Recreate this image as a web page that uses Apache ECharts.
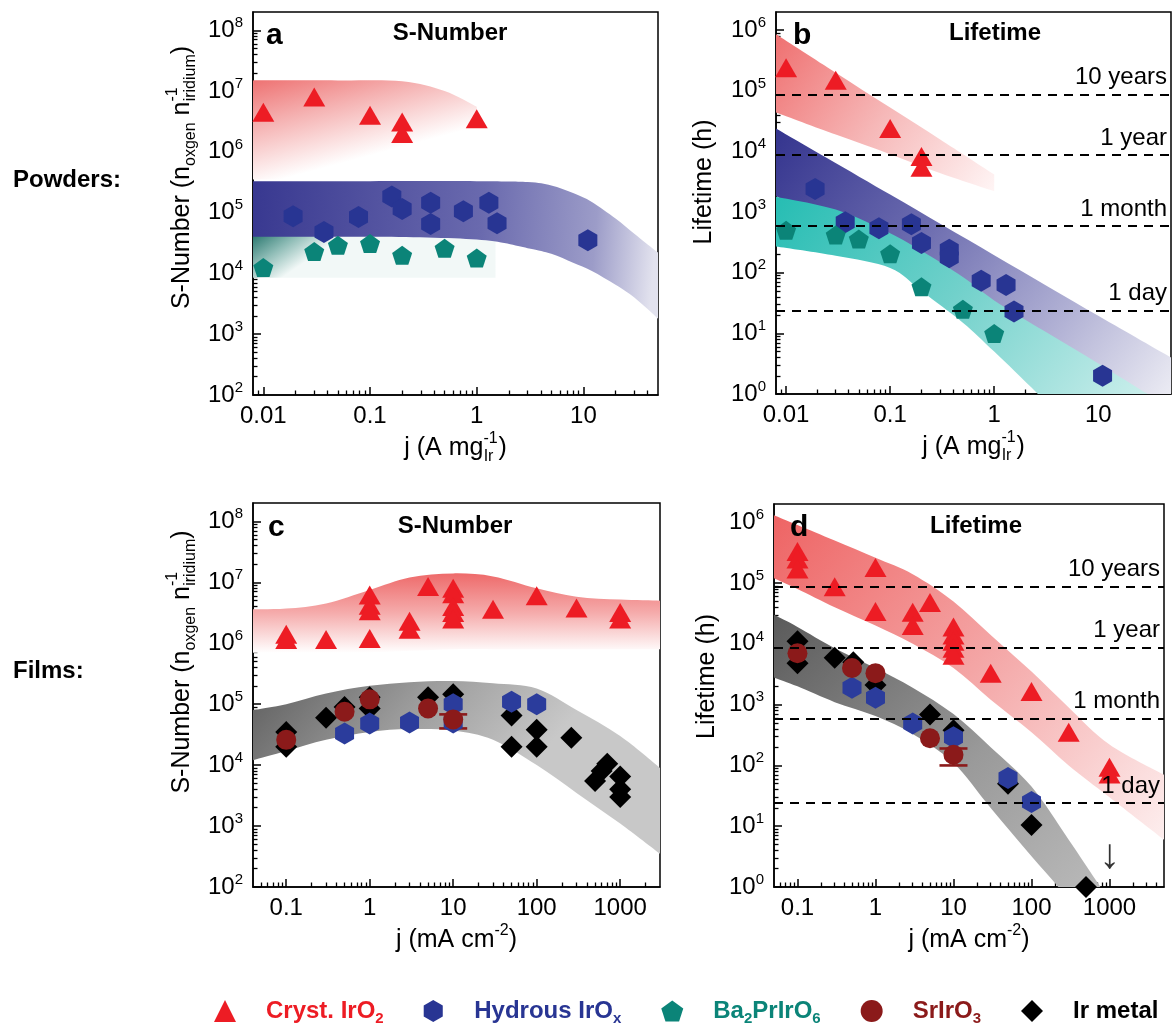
<!DOCTYPE html>
<html><head><meta charset="utf-8">
<script src="https://cdn.jsdelivr.net/npm/echarts@6/dist/echarts.min.js"></script>
<style>html,body{margin:0;padding:0;background:#fff}#c{width:1175px;height:1028px}</style>
</head><body><div id="c"></div>
<script>
const FONT = "'Liberation Sans', Arial, Helvetica, sans-serif";

// ---------- Panel a : powders, S-number ----------
const aIrO2X = [0.01, 0.03, 0.1, 0.2, 0.2, 1.0];
const aIrO2Y = [4.5e6, 8e6, 4e6, 3.1e6, 2.0e6, 3.5e6];
const aHydX = [0.019, 0.037, 0.078, 0.16, 0.2, 0.37, 0.37, 0.75, 1.3, 1.55, 11];
const aHydY = [8.7e4, 4.8e4, 8.5e4, 1.85e5, 1.15e5, 1.45e5, 6.5e4, 1.05e5, 1.45e5, 6.7e4, 3.5e4];
const aBaX = [0.01, 0.03, 0.05, 0.1, 0.2, 0.5, 1.0];
const aBaY = [1.25e4, 2.3e4, 2.9e4, 3.1e4, 2.0e4, 2.6e4, 1.8e4];
const aRedBandX = [0.008, 0.05, 0.2, 0.5, 1.0];
const aRedBandTop = [1.5e7, 1.5e7, 1.45e7, 1.0e7, 5.5e6];
const aRedBandBot = [3.5e5, 3.5e5, 4e5, 5.5e5, 1e6];
const aBlueBandX = [0.008, 0.1, 1, 3, 5, 8, 12, 20, 30, 50];
const aBlueBandTop = [3.3e5, 3.3e5, 3.3e5, 3.2e5, 2.8e5, 2.1e5, 1.5e5, 8e4, 4.5e4, 2.2e4];
const aBlueBandBot = [4e4, 4e4, 3.6e4, 2.6e4, 2.1e4, 1.5e4, 1.1e4, 6.5e3, 4e3, 1.8e3];
const aGreenBandX = [0.008, 0.1, 0.5, 1.5];
const aGreenBandTop = [4.2e4, 4.2e4, 4e4, 3.5e4];
const aGreenBandBot = [8.5e3, 8.5e3, 8.5e3, 8.5e3];

// ---------- Panel b : powders, lifetime ----------
const bIrO2X = [0.01, 0.03, 0.1, 0.2, 0.2];
const bIrO2Y = [2.4e5, 1.5e5, 2.4e4, 8.3e3, 5.5e3];
const bHydX = [0.019, 0.037, 0.078, 0.16, 0.2, 0.37, 0.37, 0.75, 1.3, 1.55, 11];
const bHydY = [2.4e3, 680, 540, 630, 310, 240, 180, 74, 63, 23, 2.0];
const bBaX = [0.01, 0.03, 0.05, 0.1, 0.2, 0.5, 1.0];
const bBaY = [500, 420, 360, 205, 59, 25, 10];
const bRedBandX = [0.008, 0.03, 0.1, 0.3, 1.0];
const bRedBandTop = [8.6e5, 2e5, 5.3e4, 1.6e4, 4.2e3];
const bRedBandBot = [4.4e4, 1.9e4, 9e3, 4.4e3, 2.2e3];
const bBlueBandX = [0.008, 0.1, 1, 10, 50];
const bBlueBandTop = [2.4e4, 1.95e3, 195, 19.5, 4];
const bBlueBandBot = [1.85e3, 150, 15, 1.5, 0.3];
const bGreenBandX = [0.008, 0.03, 0.1, 0.2, 0.5, 1, 3, 10, 30, 50];
const bGreenBandTop = [1.8e3, 1.1e3, 450, 230, 85, 35, 11, 3.2, 1.0, 0.6];
const bGreenBandBot = [270, 190, 120, 50, 15, 5, 0.8, 0.1, 0.02, 0.01];

// ---------- Panel c : films, S-number ----------
const cIrO2X = [0.1, 0.1, 0.3, 1, 1, 1, 1, 3, 3, 5, 10, 10, 10, 10, 10, 30, 100, 300, 1000, 1000];
const cIrO2Y = [1.4e6, 1.15e6, 1.15e6, 6.2e6, 4.2e6, 3.4e6, 1.2e6, 2.3e6, 1.7e6, 8.5e6, 8e6, 6.5e6, 4e6, 3.2e6, 2.5e6, 3.6e6, 6e6, 3.8e6, 3.2e6, 2.5e6];
const cIrX = [0.1, 0.1, 0.3, 0.5, 1, 1, 5, 10, 50, 50, 100, 100, 260, 500, 600, 700, 1000, 1000, 1000];
const cIrY = [3.5e4, 2e4, 6e4, 9e4, 1.3e5, 8.5e4, 1.3e5, 1.45e5, 6.5e4, 2e4, 3.8e4, 2e4, 2.8e4, 5.5e3, 8e3, 1.05e4, 6.5e3, 4e3, 3e3];
const cHydX = [0.5, 1, 3, 10, 10, 50, 100];
const cHydY = [3.3e4, 4.8e4, 5e4, 1e5, 5e4, 1.1e5, 1e5];
const cSrX = [0.1, 0.5, 1, 5, 10];
const cSrY = [2.6e4, 7.5e4, 1.2e5, 8.5e4, 5.6e4];
const cSrErr = [[10, 4e4, 6.8e4]];
const cRedBandX = [0.04, 0.1, 0.3, 1, 3, 10, 30, 100, 300, 1000, 3000];
const cRedBandTop = [3.6e6, 3.7e6, 4.5e6, 7.5e6, 1.2e7, 1.4e7, 1.25e7, 8e6, 5.8e6, 5.2e6, 5e6];
const cRedBandBot = [7e5, 7e5, 7e5, 7e5, 7.5e5, 8e5, 8e5, 8e5, 8e5, 8e5, 8e5];
const cGreyBandX = [0.04, 0.1, 0.3, 1, 3, 10, 30, 100, 300, 1000, 3000];
const cGreyBandTop = [8e4, 1e5, 1.5e5, 2e5, 2.3e5, 2.4e5, 2.2e5, 1.8e5, 8e4, 3e4, 9e3];
const cGreyBandBot = [1.2e4, 1.7e4, 2.6e4, 3.5e4, 3.9e4, 3.7e4, 2.6e4, 1e4, 3.5e3, 1.1e3, 350];

// ---------- Panel d : films, lifetime ----------
const dIrO2X = [0.1, 0.1, 0.1, 0.3, 1, 1, 3, 3, 5, 10, 10, 10, 10, 10, 30, 100, 300, 1000, 1000];
const dIrO2Y = [3.3e5, 2.5e5, 1.7e5, 8.7e4, 1.8e5, 3.4e4, 3.3e4, 2e4, 4.8e4, 1.9e4, 1.4e4, 1.1e4, 8.5e3, 6.5e3, 3.3e3, 1.65e3, 350, 93, 72];
const dIrX = [0.1, 0.1, 0.3, 0.52, 1, 5, 10, 50, 100, 500];
const dIrY = [1.1e4, 4.8e3, 5.9e3, 5e3, 2.1e3, 690, 380, 50, 10.5, 1];
const dHydX = [0.5, 1, 3, 10, 50, 100];
const dHydY = [1.9e3, 1.3e3, 490, 290, 62, 25];
const dSrX = [0.1, 0.5, 1, 5, 10];
const dSrY = [7e3, 4e3, 3.3e3, 280, 150];
const dSrErr = [[10, 100, 190]];
const dArrow = [[1000, 3.2]];
const dRedBandX = [0.05, 0.1, 0.3, 1, 3, 10, 30, 100, 300, 1000, 5000];
const dRedBandTop = [1.3e6, 9e5, 5e5, 2.6e5, 1.4e5, 5e4, 1.4e4, 3.5e3, 900, 220, 70];
const dRedBandBot = [1.2e5, 8e4, 4e4, 2e4, 1e4, 4e3, 1.2e3, 350, 100, 30, 6];
const dGreyBandX = [0.05, 0.1, 0.3, 1, 3, 10, 30, 100, 300, 1000];
const dGreyBandTop = [3e4, 1.9e4, 8.5e3, 4e3, 1.9e3, 700, 200, 45, 6, 0.6];
const dGreyBandBot = [2.8e3, 2e3, 1.1e3, 650, 330, 110, 20, 3.2, 0.6, 0.05];

// ---------- ticks, reference lines, legend ----------
const xTicksPowder = [0.01, 0.1, 1, 10];
const xTicksFilm = [0.1, 1, 10, 100, 1000];
const yTicksS = [1e2, 1e3, 1e4, 1e5, 1e6, 1e7, 1e8];
const yTicksL = [1, 10, 100, 1e3, 1e4, 1e5, 1e6];
const lifeLines = [87600, 8760, 590, 24];
const lifeLabels = ['10 years', '1 year', '1 month', '1 day'];
const legendNames = ['Cryst. IrO2', 'Hydrous IrOx', 'Ba2PrIrO6', 'SrIrO3', 'Ir metal'];
const legendColors = ['#ed1c24', '#283593', '#0b8478', '#8b1a1a', '#000000'];
const legendRich = {'Cryst. IrO2': 'Cryst. IrO{s|2}', 'Hydrous IrOx': 'Hydrous IrO{s|x}',
  'Ba2PrIrO6': 'Ba{s|2}PrIrO{s|6}', 'SrIrO3': 'SrIrO{s|3}', 'Ir metal': 'Ir metal'};

const C_RED = '#ed1c24', C_HYD = '#283593', C_HYD2 = '#2b3c9c', C_BA = '#0b8478', C_SR = '#8b1a1a', C_IR = '#000';
const HEX = 'path://M0,-10 L8.66,-5 L8.66,5 L0,10 L-8.66,5 L-8.66,-5 Z';
const PENT = 'path://M0,-10 L9.51,-3.09 L5.88,8.09 L-5.88,8.09 L-9.51,-3.09 Z';

const chart = echarts.init(document.getElementById('c'), null, {renderer: 'canvas'});
const G = echarts.graphic.LinearGradient;

function minors(lo, hi) {
  const out = [];
  for (let e = Math.floor(Math.log10(lo)) - 1; e <= Math.ceil(Math.log10(hi)); e++)
    for (let m = 2; m <= 9; m++) {
      const v = +(m * Math.pow(10, e)).toPrecision(6);
      if (v > lo * 1.0001 && v < hi * 0.9999) out.push(v);
    }
  return out;
}
const NAME_RICH = {
  sb: {fontSize: 16, verticalAlign: 'bottom', lineHeight: 16, color: '#000', fontFamily: FONT},
  sbn: {fontSize: 16, verticalAlign: 'bottom', lineHeight: 16, color: '#000', fontFamily: FONT, padding: [0, 0, 0, -14]},
  sbs: {fontSize: 16, verticalAlign: 'bottom', lineHeight: 16, color: '#000', fontFamily: FONT, padding: [0, 5, 0, -14]},
  sp: {fontSize: 16, verticalAlign: 'top', lineHeight: 16, color: '#000', fontFamily: FONT}
};
const AX_LINE = {show: true, onZero: false, lineStyle: {color: '#000', width: 1.5}};
function xAxes(grid, min, max, ticks, name, gap) {
  return [{
    type: 'log', logBase: 10, gridIndex: grid, min, max, position: 'bottom', offset: 0,
    name, nameLocation: 'middle', nameGap: gap,
    nameTextStyle: {fontSize: 25, color: '#000', fontFamily: FONT, lineHeight: 34, rich: NAME_RICH},
    axisLine: AX_LINE,
    axisTick: {show: true, inside: true, length: 8, customValues: ticks, lineStyle: {color: '#000', width: 1.5}},
    axisLabel: {show: true, customValues: ticks, formatter: v => String(+(+v).toPrecision(6)),
      fontSize: 24, color: '#000', fontFamily: FONT, margin: 9},
    splitLine: {show: false}
  }, {
    type: 'log', logBase: 10, gridIndex: grid, min, max, position: 'bottom', offset: 0,
    axisLine: {show: false},
    axisTick: {show: true, inside: true, length: 4.5, customValues: minors(min, max), lineStyle: {color: '#000', width: 1.3}},
    axisLabel: {show: false}, splitLine: {show: false}
  }];
}
function yAxes(grid, min, max, ticks, name, gap, shift) {
  return [{
    type: 'log', logBase: 10, gridIndex: grid, min, max, position: 'left', offset: 0,
    name, nameLocation: 'middle', nameGap: gap,
    nameTextStyle: {fontSize: 25, color: '#000', fontFamily: FONT, lineHeight: 34, rich: NAME_RICH, padding: [0, 0, 0, shift]},
    axisLine: AX_LINE,
    axisTick: {show: true, inside: true, length: 8, customValues: ticks, lineStyle: {color: '#000', width: 1.5}},
    axisLabel: {show: true, customValues: ticks, margin: 10,
      formatter: v => '{b|10}{s|' + Math.round(Math.log10(v)) + '}',
      rich: {b: {fontSize: 24, lineHeight: 30, color: '#000', fontFamily: FONT},
             s: {fontSize: 15, lineHeight: 15, verticalAlign: 'top', color: '#000', fontFamily: FONT}}},
    splitLine: {show: false}
  }, {
    type: 'log', logBase: 10, gridIndex: grid, min, max, position: 'left', offset: 0,
    axisLine: {show: false},
    axisTick: {show: true, inside: true, length: 4.5, customValues: minors(min, max), lineStyle: {color: '#000', width: 1.3}},
    axisLabel: {show: false}, splitLine: {show: false}
  }];
}

function curve(pts) {
  let s = '';
  for (let i = 0; i < pts.length - 1; i++) {
    const p0 = pts[i - 1] || pts[i], p1 = pts[i], p2 = pts[i + 1], p3 = pts[i + 2] || p2;
    const c1 = [p1[0] + (p2[0] - p0[0]) / 6, p1[1] + (p2[1] - p0[1]) / 6];
    const c2 = [p2[0] - (p3[0] - p1[0]) / 6, p2[1] - (p3[1] - p1[1]) / 6];
    s += ' C' + c1[0] + ',' + c1[1] + ' ' + c2[0] + ',' + c2[1] + ' ' + p2[0] + ',' + p2[1];
  }
  return s;
}
function band(gi, xs, lo, hi, fill) {
  return {
    type: 'custom', xAxisIndex: gi, yAxisIndex: gi, silent: true, z: 1, clip: true,
    data: [[xs[0], hi[0]]],
    renderItem: (params, api) => {
      const top = xs.map((x, i) => api.coord([x, hi[i]]));
      const bot = xs.map((x, i) => api.coord([x, lo[i]])).reverse();
      const d = 'M' + top[0][0] + ',' + top[0][1] + curve(top) + ' L' + bot[0][0] + ',' + bot[0][1] + curve(bot) + ' Z';
      const cs = params.coordSys;
      return {type: 'path', shape: {pathData: d}, style: {fill: fill, stroke: null},
        clipPath: {type: 'rect', shape: {x: cs.x, y: cs.y, width: cs.width, height: cs.height}}};
    }
  };
}
function errBar(gi, data) {
  return {
    type: 'custom', xAxisIndex: gi, yAxisIndex: gi, silent: true, z: 3, data,
    encode: {x: 0, y: [1, 2]},
    renderItem: (params, api) => {
      const lo = api.coord([api.value(0), api.value(1)]);
      const hi = api.coord([api.value(0), api.value(2)]);
      const w = 14, st = {stroke: C_SR, lineWidth: 2.6};
      return {type: 'group', children: [
        {type: 'line', shape: {x1: lo[0], y1: lo[1], x2: hi[0], y2: hi[1]}, style: st},
        {type: 'line', shape: {x1: lo[0] - w, y1: lo[1], x2: lo[0] + w, y2: lo[1]}, style: st},
        {type: 'line', shape: {x1: hi[0] - w, y1: hi[1], x2: hi[0] + w, y2: hi[1]}, style: st}]};
    }
  };
}
function sc(name, gi, xs, ys, symbol, size, color) {
  return {type: 'scatter', name, xAxisIndex: gi, yAxisIndex: gi, silent: true, z: 4,
    data: xs.map((x, i) => [x, ys[i]]), symbol, symbolSize: size,
    itemStyle: {color, opacity: 1}};
}
function lifeMarks(gi) {
  return {type: 'line', xAxisIndex: gi, yAxisIndex: gi, data: [], silent: true, z: 2,
    markLine: {silent: true, symbol: ['none', 'none'], animation: false,
      lineStyle: {type: [9, 7], color: '#000', width: 1.8},
      label: {show: true, position: 'insideEndTop', fontSize: 24, color: '#000', fontFamily: FONT, distance: [4, 5]},
      data: lifeLines.map((v, i) => ({yAxis: v, label: {formatter: lifeLabels[i]}}))}};
}

const TRI = [22, 19], HEXS = [19, 22], PENTS = [20, 19];
const xA = xAxes(0, 0.008, 50, xTicksPowder, 'j (A mg{sp|-1}{sbs|Ir})', 36);
const xB = xAxes(1, 0.008, 50, xTicksPowder, 'j (A mg{sp|-1}{sbs|Ir})', 36);
const xC = xAxes(2, 0.04, 3000, xTicksFilm, 'j (mA cm{sp|-2})', 36);
const xD = xAxes(3, 0.05, 5000, xTicksFilm, 'j (mA cm{sp|-2})', 36);
const yA = yAxes(0, 100, 2e8, yTicksS, 'S-Number (n{sb|oxgen} n{sp|-1}{sbn|iridium})', 54, 52);
const yB = yAxes(1, 1, 2e6, yTicksL, 'Lifetime (h)', 55, 42);
const yC = yAxes(2, 100, 2e8, yTicksS, 'S-Number (n{sb|oxgen} n{sp|-1}{sbn|iridium})', 54, 66);
const yD = yAxes(3, 1, 2e6, yTicksL, 'Lifetime (h)', 50, 38);

const gridStyle = {show: true, borderColor: '#000', borderWidth: 1.5, backgroundColor: 'transparent', containLabel: false};
function txt(t, x, y, size, align) {
  return {type: 'text', x, y, silent: true, z: 100, zlevel: 0,
    style: {text: t, font: 'bold ' + size + 'px ' + FONT, fill: '#000',
      textAlign: align, align: align, textVerticalAlign: 'middle', verticalAlign: 'middle'}};
}

const option = {
  animation: false,
  backgroundColor: '#fff',
  textStyle: {fontFamily: FONT},
  grid: [
    Object.assign({left: 253, top: 12, width: 405, height: 383}, gridStyle),
    Object.assign({left: 776, top: 12, width: 395, height: 382}, gridStyle),
    Object.assign({left: 253, top: 503, width: 407, height: 384}, gridStyle),
    Object.assign({left: 774, top: 504, width: 390, height: 383}, gridStyle)
  ],
  xAxis: [xA[0], xB[0], xC[0], xD[0], xA[1], xB[1], xC[1], xD[1]],
  yAxis: [yA[0], yB[0], yC[0], yD[0], yA[1], yB[1], yC[1], yD[1]],
  legend: {
    show: true, left: 209, top: 991, itemWidth: 22, itemHeight: 22, itemGap: 40, selectedMode: false,
    data: legendNames.map((n, i) => ({name: n, textStyle: {color: legendColors[i]}})),
    formatter: n => legendRich[n],
    textStyle: {fontSize: 24, fontWeight: 'bold', fontFamily: FONT, lineHeight: 30, padding: [0, 0, 0, 25],
      rich: {s: {fontSize: 15, fontWeight: 'bold', fontFamily: FONT, verticalAlign: 'bottom', lineHeight: 14}}}
  },
  graphic: {elements: [
    txt('Powders:', 13, 180, 24, 'left'), txt('Films:', 13, 671, 24, 'left'),
    txt('a', 266, 36, 30, 'left'), txt('S-Number', 450, 33, 24, 'center'),
    txt('b', 793, 36, 30, 'left'), txt('Lifetime', 995, 33, 24, 'center'),
    txt('c', 268, 528, 30, 'left'), txt('S-Number', 455, 526, 24, 'center'),
    txt('d', 790, 528, 30, 'left'), txt('Lifetime', 976, 526, 24, 'center')
  ]},
  series: [
    // panel a
    band(0, aRedBandX, aRedBandBot, aRedBandTop, new G(0, 0, 0.12, 1, [{offset: 0, color: '#ee7272'}, {offset: 0.45, color: '#f5b3b3'}, {offset: 1, color: '#ffffff'}])),
    band(0, aGreenBandX, aGreenBandBot, aGreenBandTop, new G(0, 0, 0.12, 1, [{offset: 0, color: '#2b7870'}, {offset: 0.5, color: '#8ebcb6'}, {offset: 1, color: '#f2f8f7'}])),
    band(0, aBlueBandX, aBlueBandBot, aBlueBandTop, new G(0, 0, 1, 0.25, [{offset: 0, color: '#383890'}, {offset: 0.57, color: '#6a6aae'}, {offset: 0.85, color: '#9c9cc8'}, {offset: 1, color: '#e2e2ee'}])),
    sc('Hydrous IrOx', 0, aHydX, aHydY, HEX, HEXS, C_HYD),
    sc('Ba2PrIrO6', 0, aBaX, aBaY, PENT, PENTS, C_BA),
    sc('Cryst. IrO2', 0, aIrO2X, aIrO2Y, 'triangle', TRI, C_RED),
    // panel b
    band(1, bRedBandX, bRedBandBot, bRedBandTop, new G(0, 0, 1, 1, [{offset: 0, color: '#ef7070'}, {offset: 0.5, color: '#f6b8b8'}, {offset: 1, color: '#fff5f5'}])),
    band(1, bBlueBandX, bBlueBandBot, bBlueBandTop, new G(0, 0, 1, 1, [{offset: 0, color: '#34348e'}, {offset: 0.35, color: '#6a6aae'}, {offset: 0.7, color: '#b2b2d5'}, {offset: 1, color: '#f4f4f8'}])),
    band(1, bGreenBandX, bGreenBandBot, bGreenBandTop, new G(0, 0, 1, 1, [{offset: 0, color: '#26bdb3'}, {offset: 0.4, color: '#72d1cb'}, {offset: 1, color: '#f2fbfa'}])),
    lifeMarks(1),
    sc('Hydrous IrOx', 1, bHydX, bHydY, HEX, HEXS, C_HYD),
    sc('Ba2PrIrO6', 1, bBaX, bBaY, PENT, PENTS, C_BA),
    sc('Cryst. IrO2', 1, bIrO2X, bIrO2Y, 'triangle', TRI, C_RED),
    // panel c
    band(2, cRedBandX, cRedBandBot, cRedBandTop, new G(0, 0, 0, 1, [{offset: 0, color: '#ee6a6a'}, {offset: 0.5, color: '#f5acac'}, {offset: 1, color: '#ffffff'}])),
    band(2, cGreyBandX, cGreyBandBot, cGreyBandTop, new G(0, 0, 0.5, 1, [{offset: 0, color: '#5f5f5f'}, {offset: 0.5, color: '#9a9a9a'}, {offset: 1, color: '#c8c8c8'}])),
    sc('Ir metal', 2, cIrX, cIrY, 'diamond', 22, C_IR),
    sc('Hydrous IrOx', 2, cHydX, cHydY, HEX, HEXS, C_HYD2),
    errBar(2, cSrErr),
    sc('SrIrO3', 2, cSrX, cSrY, 'circle', 20, C_SR),
    sc('Cryst. IrO2', 2, cIrO2X, cIrO2Y, 'triangle', TRI, C_RED),
    // panel d
    band(3, dRedBandX, dRedBandBot, dRedBandTop, new G(0, 0, 1, 1, [{offset: 0, color: '#ee6464'}, {offset: 0.5, color: '#f4a6a6'}, {offset: 1, color: '#fdeeee'}])),
    band(3, dGreyBandX, dGreyBandBot, dGreyBandTop, new G(0, 0, 1, 1, [{offset: 0, color: '#5a5a5a'}, {offset: 0.5, color: '#9a9a9a'}, {offset: 1, color: '#c4c4c4'}])),
    lifeMarks(3),
    sc('Ir metal', 3, dIrX, dIrY, 'diamond', 22, C_IR),
    sc('Hydrous IrOx', 3, dHydX, dHydY, HEX, HEXS, C_HYD2),
    errBar(3, dSrErr),
    sc('SrIrO3', 3, dSrX, dSrY, 'circle', 20, C_SR),
    sc('Cryst. IrO2', 3, dIrO2X, dIrO2Y, 'triangle', TRI, C_RED),
    {type: 'scatter', xAxisIndex: 3, yAxisIndex: 3, silent: true, z: 5, data: dArrow, symbolSize: 1,
      itemStyle: {color: 'rgba(0,0,0,0)'},
      label: {show: true, formatter: '\u2193', fontSize: 42, color: '#000', position: 'inside', fontFamily: FONT}}
  ]
};
chart.setOption(option);
</script></body></html>
